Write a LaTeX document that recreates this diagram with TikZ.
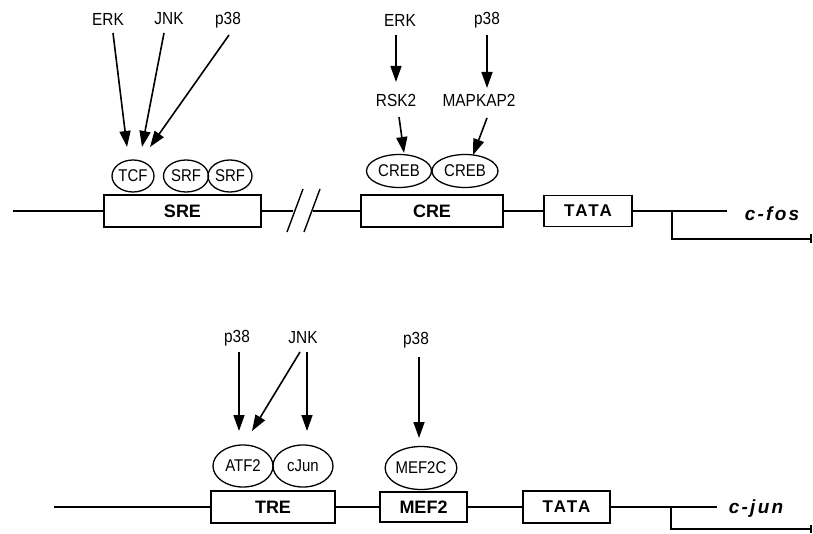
\documentclass[tikz,border=0pt]{standalone}
\usepackage{fontspec}
\setmainfont{Liberation Sans}
\newfontfamily\narrow[FakeStretch=0.88]{Liberation Sans}
\newfontfamily\spaced[LetterSpace=12]{Liberation Sans}
\usetikzlibrary{arrows.meta,shapes.geometric}
\begin{document}
\begin{tikzpicture}[x=1pt,y=-1pt,line width=1.4pt,
  lbl/.style={inner sep=0pt,font=\narrow\fontsize{17.5}{17.5}\selectfont},
  factor/.style={draw,ellipse,inner sep=0pt,line width=1.3pt,font=\narrow\fontsize{17}{17}\selectfont},
  elem/.style={draw,rectangle,inner sep=0pt,line width=1.3pt,fill=white,font=\bfseries\fontsize{18}{18}\selectfont},
  tatabox/.style={elem,font=\spaced\bfseries\fontsize{17}{17}\selectfont},
  gene/.style={inner sep=0pt,font=\spaced\bfseries\itshape\fontsize{19}{19}\selectfont},
  act/.style={-{Triangle[length=16pt,width=11pt]},line width=1.6pt},
  dna/.style={line width=1.4pt}]
\useasboundingbox (0,0) rectangle (813,534);
% ---------- c-fos ----------
\node[elem,minimum width=157pt,minimum height=32pt] (sre) at (182.5,211) {SRE};
\node[elem,minimum width=142pt,minimum height=32pt] (cre) at (432,211) {CRE};
\node[tatabox,minimum width=88pt,minimum height=31pt] (tata1) at (588,211) {TATA};
\coordinate (l1) at (13,211);
\coordinate (s1) at (293,211);
\coordinate (s2) at (313,211);
\coordinate (e1) at (727,211);
\coordinate (b1) at (672,211);
\coordinate (b1d) at (672,239);
\coordinate (t1) at (812,239);
\draw[dna] (l1) -- (sre.west);
\draw[dna] (sre.east) -- (s1);
\draw[dna] (s2) -- (cre.west);
\draw[dna] (cre.east) -- (tata1.west);
\draw[dna] (tata1.east) -- (e1);
\draw[dna,-{Bar[width=9pt,line width=2pt]}] (b1) -- (b1d) -- (t1);
\coordinate (sl1a) at (287,232); \coordinate (sl1b) at (303,189);
\coordinate (sl2a) at (304,232); \coordinate (sl2b) at (320,189);
\draw[dna] (sl1a) -- (sl1b);
\draw[dna] (sl2a) -- (sl2b);
\node[gene] (cfos) at (772,214) {c-fos};

\node[factor,minimum width=42pt,minimum height=32pt] (tcf) at (133,176) {TCF};
\node[factor,minimum width=45pt,minimum height=32pt] (srf1) at (186,176) {SRF};
\node[factor,minimum width=44pt,minimum height=32pt] (srf2) at (230,176) {SRF};
\node[factor,minimum width=65pt,minimum height=33pt] (creb1) at (399,171) {CREB};
\node[factor,minimum width=66pt,minimum height=33pt] (creb2) at (465,171) {CREB};

\node[lbl] (erk1) at (108,19) {ERK};
\node[lbl] (jnk1) at (169,19) {JNK};
\node[lbl] (p381) at (228,20) {p38};
\node[lbl] (erk2) at (400,20) {ERK};
\node[lbl] (p382) at (487,20) {p38};
\node[lbl] (rsk2) at (396,100) {RSK2};
\node[lbl] (mapk) at (479,100) {MAPKAP2};

\coordinate (a1s) at (113,33);  \coordinate (a1e) at (127,147);
\coordinate (a2s) at (164,33);  \coordinate (a2e) at (142,147);
\coordinate (a3s) at (229,35);  \coordinate (a3e) at (150,147);
\draw[act] (a1s) -- (a1e);
\draw[act] (a2s) -- (a2e);
\draw[act] (a3s) -- (a3e);
\coordinate (a4s) at (396,35);  \coordinate (a4e) at (396,82);
\coordinate (a5s) at (399,117); \coordinate (a5e) at (404,153);
\coordinate (a6s) at (487,35);  \coordinate (a6e) at (487,88);
\coordinate (a7s) at (487,118); \coordinate (a7e) at (473,155);
\draw[act] (a4s) -- (a4e);
\draw[act] (a5s) -- (a5e);
\draw[act] (a6s) -- (a6e);
\draw[act] (a7s) -- (a7e);

% ---------- c-jun ----------
\node[elem,minimum width=124pt,minimum height=32pt] (tre) at (273,507) {TRE};
\node[elem,minimum width=87pt,minimum height=30pt] (mef2) at (423.5,507) {MEF2};
\node[tatabox,minimum width=87pt,minimum height=32pt] (tata2) at (566.5,507) {TATA};
\coordinate (l2) at (54,507);
\coordinate (e2) at (717,507);
\coordinate (b2) at (671,507);
\coordinate (b2d) at (671,529);
\coordinate (t2) at (812,529);
\draw[dna] (l2) -- (tre.west);
\draw[dna] (tre.east) -- (mef2.west);
\draw[dna] (mef2.east) -- (tata2.west);
\draw[dna] (tata2.east) -- (e2);
\draw[dna,-{Bar[width=8pt,line width=2pt]}] (b2) -- (b2d) -- (t2);
\node[gene] (cjun) at (756,509) {c-jun};

\node[factor,minimum width=60pt,minimum height=42pt] (atf2) at (243,466) {ATF2};
\node[factor,minimum width=60pt,minimum height=42pt] (cjunf) at (303,466) {cJun};
\node[factor,minimum width=66pt,minimum height=43pt] (mef2c) at (421,468) {MEF2C};

\node[lbl] (p383) at (237,338) {p38};
\node[lbl] (jnk2) at (303,338) {JNK};
\node[lbl] (p384) at (416,340) {p38};

\coordinate (b1s) at (239,352); \coordinate (b1e) at (239,431);
\coordinate (b2s) at (300,352); \coordinate (b2e) at (252,431);
\coordinate (b3s) at (307,352); \coordinate (b3e) at (307,431);
\coordinate (b4s) at (419,357); \coordinate (b4e) at (419,438);
\draw[act] (b1s) -- (b1e);
\draw[act] (b2s) -- (b2e);
\draw[act] (b3s) -- (b3e);
\draw[act] (b4s) -- (b4e);
\end{tikzpicture}
\end{document}
